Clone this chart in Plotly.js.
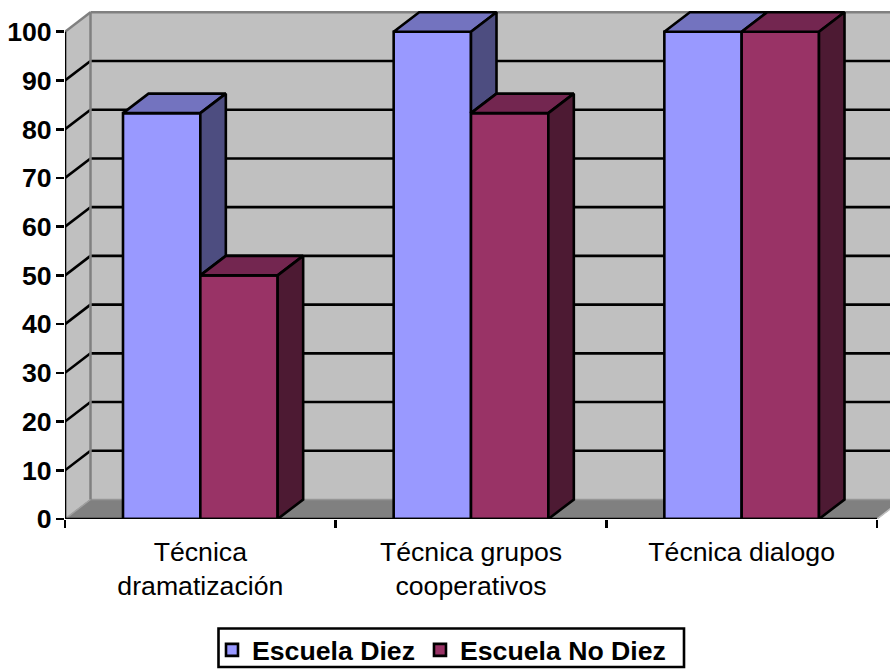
<!DOCTYPE html>
<html><head><meta charset="utf-8">
<script src="https://cdn.plot.ly/plotly-3.0.1.min.js"></script>
<style>html,body{margin:0;padding:0;background:#fff}#c{width:890px;height:669px}</style>
</head><body><div id="c"></div>
<script>
var categories = ["Técnica<br>dramatización", "Técnica grupos<br>cooperativos", "Técnica dialogo"];
var escuelaDiez = [83.3, 100, 100];
var escuelaNoDiez = [50, 83.3, 100];
var yTicks = [0,10,20,30,40,50,60,70,80,90,100];
var seriesNames = ["Escuela Diez", "Escuela No Diez"];

var xPos = categories.map(function(_, i){return i;});
var DX = 0.0942, DY = 4.0, BW = 0.2857, X0 = -0.5, X1 = 2.5, XMAX = 2.548, YMAX = 105.08;
var FONT = "Liberation Sans, Arial, sans-serif";
var BLACK = "#000", W = 2.6;

function path(pts){return pts.map(function(p,i){return (i?"L":"M")+p[0]+" "+p[1];}).join(" ")+" Z";}
var shapes = [];
function poly(pts, fill, lc, lw){shapes.push({type:"path",layer:"below",xref:"x",yref:"y",path:path(pts),fillcolor:fill,line:{color:lc,width:lw}});}
function seg(x1,y1,x2,y2,c,w){shapes.push({type:"line",layer:"below",xref:"x",yref:"y",x0:x1,y0:y1,x1:x2,y1:y2,line:{color:c,width:w}});}

// walls and floor
poly([[X0+DX,DY],[XMAX+1,DY],[XMAX+1,100+DY],[X0+DX,100+DY]],"#C0C0C0","rgba(0,0,0,0)",0);
poly([[X0,0],[X0+DX,DY],[X0+DX,100+DY],[X0,100]],"#C0C0C0","rgba(0,0,0,0)",0);
poly([[X0,0],[X1,0],[X1+DX,DY],[X0+DX,DY]],"#808080","#808080",1);
yTicks.forEach(function(v){
  if(v===0||v===100) return;
  seg(X0,v,X0+DX,v+DY,BLACK,W);
  seg(X0+DX,v+DY,XMAX+1,v+DY,BLACK,W);
});
seg(X0+DX,DY,XMAX+1,DY,"#969696",1.5);
seg(X0,100,X0+DX,100+DY,"#808080",2.5);
seg(X0+DX,100+DY,XMAX+1,100+DY,"#808080",2.5);
seg(X0+DX,DY,X0+DX,100+DY,"#808080",2.5);
seg(X0,0,X0+DX,DY,"#A0A0A0",1.5);
seg(X1,0,X1+DX,DY,"#C0C0C0",1.5);
// legend frame
shapes.push({type:"rect",layer:"below",xref:"paper",yref:"paper",
  x0:(218.5-65)/825,x1:(684-65)/825,y0:(519-667)/512,y1:(519-628.5)/512,
  fillcolor:"#fff",line:{color:BLACK,width:W}});

var traces = [
 {type:"bar",name:seriesNames[0],x:xPos,y:escuelaDiez,marker:{color:"#9999FF",line:{color:BLACK,width:W}},hoverinfo:"skip"},
 {type:"bar",name:seriesNames[1],x:xPos,y:escuelaNoDiez,marker:{color:"#993366",line:{color:BLACK,width:W}},hoverinfo:"skip"}
];
function face(pts, fill){
  var p = pts.concat([pts[0]]);
  traces.push({type:"scatter",mode:"lines",x:p.map(function(q){return q[0];}),y:p.map(function(q){return q[1];}),
    fill:"toself",fillcolor:fill,line:{color:BLACK,width:W},showlegend:false,hoverinfo:"skip",cliponaxis:false});
}
xPos.forEach(function(c,i){
  var a = escuelaDiez[i], b = escuelaNoDiez[i];
  var l = c-BW, m = c, r = c+BW;
  face([[l,a],[m,a],[m+DX,a+DY],[l+DX,a+DY]],"#7373BF");
  if(a>b) face([[m,a],[m+DX,a+DY],[m+DX,b+DY],[m,b]],"#4D4D80");
  face([[m,b],[r,b],[r+DX,b+DY],[m+DX,b+DY]],"#732650");
  face([[r,b],[r+DX,b+DY],[r+DX,DY],[r,0]],"#4D1A33");
});
// axis lines
traces.push({type:"scatter",mode:"lines",x:[X0,X0],y:[0,100],line:{color:BLACK,width:W},showlegend:false,hoverinfo:"skip",cliponaxis:false});
traces.push({type:"scatter",mode:"lines",x:[X0,X1],y:[0,0],line:{color:BLACK,width:W},showlegend:false,hoverinfo:"skip",cliponaxis:false});

var layout = {
  width:890,height:669,autosize:false,
  margin:{l:65,r:0,t:7,b:150,pad:0},
  paper_bgcolor:"#fff",plot_bgcolor:"#fff",
  barmode:"group",bargap:1-2*BW,bargroupgap:0,
  shapes:shapes,showlegend:true,
  xaxis:{type:"linear",range:[X0,XMAX],tickmode:"array",tickvals:xPos,ticktext:categories,ticks:"",
    showgrid:false,zeroline:false,showline:false,fixedrange:true,tickangle:0,
    tickfont:{family:FONT,size:26.67,color:"#000"},ticklabelstandoff:14,automargin:false,
    minor:{tickmode:"array",tickvals:[-0.5,0.5,1.5,2.5],ticks:"outside",ticklen:8,tickwidth:W,tickcolor:"#000",showgrid:false}},
  yaxis:{range:[0,YMAX],tickmode:"array",tickvals:yTicks,ticks:"outside",ticklen:8,tickwidth:W,tickcolor:"#000",
    showgrid:false,zeroline:false,showline:false,fixedrange:true,automargin:false,
    tickfont:{family:FONT,size:26.67,color:"#000",weight:"bold"},ticklabelstandoff:-1},
  legend:{orientation:"h",xref:"container",yref:"container",x:212/890,xanchor:"left",y:(669-626)/669,yanchor:"top",
    bgcolor:"rgba(0,0,0,0)",borderwidth:0,font:{family:FONT,size:26.67,color:"#000",weight:"bold"},
    itemclick:false,itemdoubleclick:false,traceorder:"normal"}
};
Plotly.newPlot("c",traces,layout,{displayModeBar:false,staticPlot:true});
</script></body></html>
